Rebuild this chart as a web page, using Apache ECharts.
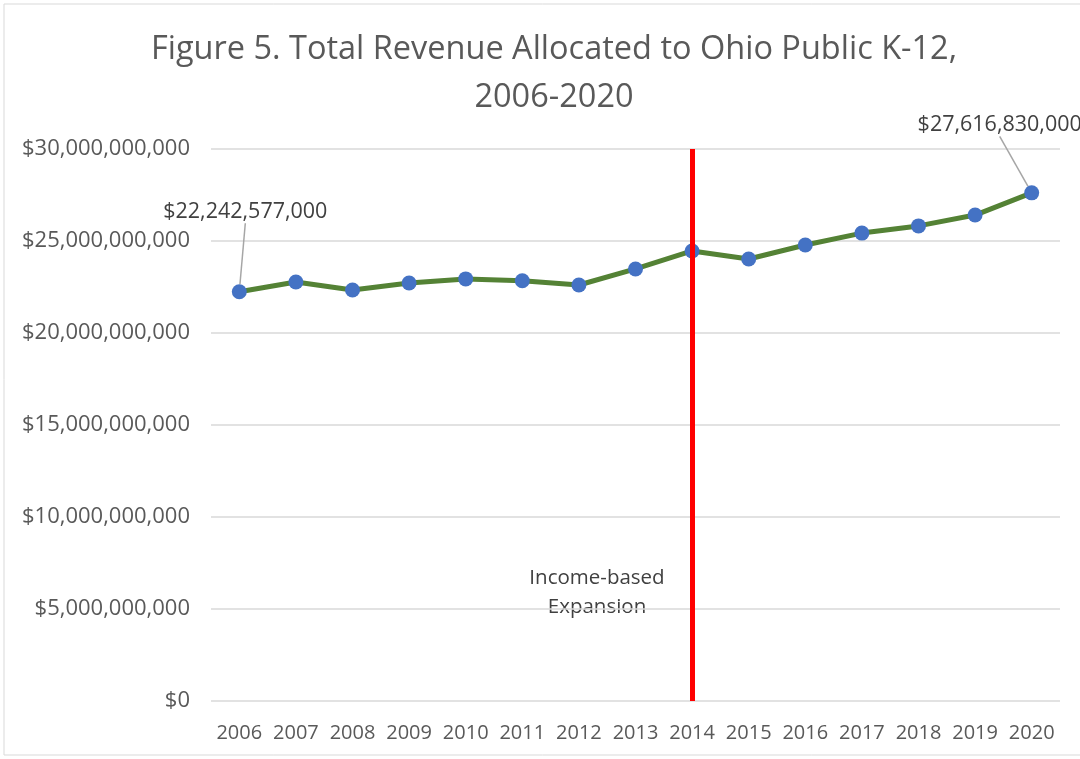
<!DOCTYPE html>
<html><head><meta charset="utf-8">
<script src="https://cdn.jsdelivr.net/npm/echarts@6/dist/echarts.min.js"></script>
<style>html,body{margin:0;padding:0;background:#fff}#c{width:1080px;height:759px}</style>
</head><body><div id="c"></div>
<script>
const years = ['2006','2007','2008','2009','2010','2011','2012','2013','2014','2015','2016','2017','2018','2019','2020'];
const revenue = [22242577000, 22770000000, 22340000000, 22720000000, 22940000000, 22840000000, 22610000000, 23480000000, 24460000000, 24020000000, 24780000000, 25430000000, 25820000000, 26410000000, 27616830000];
const labeledYears = ['2006','2020'];
const expansionYear = '2014';
const annotation = 'Income-based\nExpansion';
const FONT = 'Open Sans';
const fmt = v => '$' + Math.round(v).toLocaleString('en-US');

const chart = echarts.init(document.getElementById('c'));
chart.setOption({
  animation: false,
  backgroundColor: '#fff',
  textStyle: {fontFamily: FONT},
  title: {
    text: 'Figure 5. Total Revenue Allocated to Ohio Public K-12,\n2006-2020',
    left: 549, top: 21, textAlign: 'center',
    textStyle: {fontFamily: FONT, fontSize: 32.5, fontWeight: 'normal', color: '#595959', lineHeight: 48}
  },
  grid: {left: 211, right: 20, top: 149, bottom: 58},
  xAxis: {
    type: 'category', data: years, boundaryGap: true,
    axisLine: {show: false}, axisTick: {show: false},
    axisLabel: {color: '#595959', fontSize: 20, fontFamily: FONT, margin: 22, interval: 0, hideOverlap: false}
  },
  yAxis: {
    type: 'value', min: 0, max: 30000000000, interval: 5000000000,
    axisLine: {show: false}, axisTick: {show: false},
    splitLine: {lineStyle: {color: '#d9d9d9', width: 1.5}},
    axisLabel: {color: '#595959', fontSize: 22, fontFamily: FONT, margin: 21, formatter: fmt}
  },
  graphic: [
    {type: 'rect', shape: {x: 4, y: 4, width: 1100, height: 751}, style: {fill: 'none', stroke: '#d9d9d9', lineWidth: 1}, silent: true},
    {type: 'text', x: 597, y: 564, style: {text: annotation, fill: '#404040', font: '20.5px "Open Sans"', align: 'center', verticalAlign: 'top', lineHeight: 29}, silent: true}
  ],
  series: [{
    type: 'line',
    data: revenue.map((v, i) => labeledYears.includes(years[i]) ? {
      value: v,
      label: {show: true, formatter: p => fmt(p.value), position: 'top', color: '#404040', fontSize: 21.5, fontFamily: FONT},
      labelLine: {show: true, lineStyle: {color: '#a6a6a6', width: 1.5}}
    } : v),
    lineStyle: {color: '#548235', width: 5},
    symbol: 'circle', symbolSize: 15,
    itemStyle: {color: '#4472C4'},
    labelLayout: p => p.dataIndex === 0 ? {dx: 6, dy: -56} : (p.dataIndex === years.length - 1 ? {dx: -32, dy: -44} : {}),
    z: 3,
    markLine: {
      silent: true, symbol: 'none', label: {show: false},
      lineStyle: {color: '#ff0000', width: 5, type: 'solid'},
      data: [{xAxis: expansionYear}]
    }
  }]
});
</script></body></html>
